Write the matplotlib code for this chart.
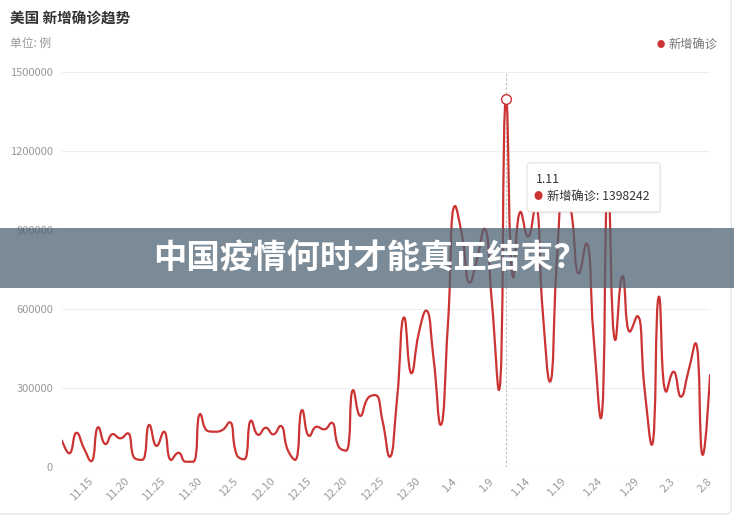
import numpy as np
import pandas as pd
import matplotlib
matplotlib.use("Agg")
import matplotlib.pyplot as plt
from matplotlib.path import Path
from matplotlib.patches import PathPatch, FancyBboxPatch, Rectangle

plt.rcParams['font.family'] = ['Noto Sans CJK SC', 'DejaVu Sans']

# daily new cases, 11.11 -> 2.8
dates = [f"{d.month}.{d.day}" for d in pd.date_range("2021-11-11", "2022-02-08")]
cases = [100000, 52000, 130000, 72000, 22000, 151000, 87000, 125000, 109000, 128000,
         33000, 27000, 160000, 80000, 134000, 27000, 54000, 20000, 20000, 201000,
         137000, 134000, 140000, 170000, 46000, 29000, 176000, 122000, 149000, 124000,
         156000, 65000, 27000, 216000, 118000, 153000, 143000, 168000, 77000, 62000,
         292000, 194000, 261000, 273000, 178000, 39000, 254000, 568000, 356000, 508000,
         594000, 419000, 160000, 540000, 991000, 870000, 700000, 790000, 905000, 640000,
         292000, 1398242, 720000, 969000, 875000, 990000, 600000, 324000, 800000, 1120000,
         960000, 735000, 849000, 500000, 185000, 1080000, 482000, 725000, 514000, 573000,
         300000, 84000, 647000, 286000, 362000, 267000, 360000, 470000, 46000, 349000]
tick_labels = ["11.15", "11.20", "11.25", "11.30", "12.5", "12.10", "12.15", "12.20", "12.25",
               "12.30", "1.4", "1.9", "1.14", "1.19", "1.24", "1.29", "2.3", "2.8"]
y_ticks = [0, 300000, 600000, 900000, 1200000, 1500000]
hover_date = "1.11"

red = "#cc3333"
W, H = 734, 517

fig = plt.figure(figsize=(W / 100, H / 100), dpi=100)
fig.patch.set_facecolor("white")
ax = fig.add_axes([62 / W, 1 - 467 / H, (710 - 62) / W, (467 - 72) / H])
ax.set_xlim(0, len(dates) - 1)
ax.set_ylim(0, 1500000)
for s in ax.spines.values():
    s.set_visible(False)
ax.set_yticks(y_ticks)
ax.set_yticklabels([str(v) for v in y_ticks])
ax.yaxis.grid(True, color="#eeeeee", lw=0.8)
ax.set_axisbelow(True)
ax.tick_params(axis="y", length=0, colors="#999999", labelsize=8, pad=6.5)
ax.set_xticks([dates.index(t) for t in tick_labels])
ax.set_xticklabels(tick_labels, rotation=45, ha="right", va="center", rotation_mode="anchor")
ax.tick_params(axis="x", length=0, colors="#999999", labelsize=8, pad=9)

# smooth line (echarts-style bezier, built in pixel space)
x = np.arange(len(cases))
pts = ax.transData.transform(np.column_stack([x, cases]))
n = len(pts)
verts = [pts[0]]
codes = [Path.MOVETO]
cp_next = pts[0].copy()
smooth = 0.5
for i in range(1, n):
    p = pts[i]
    prev = pts[i - 1]
    if i < n - 1:
        nxt = pts[i + 1]
        vec = nxt - prev
        l0 = np.hypot(*(p - prev))
        l1 = np.hypot(*(nxt - p))
        r = l1 / (l0 + l1)
        c1 = p - vec * smooth * (1 - r)
        c0n = p + vec * smooth * r
        c0n = np.minimum(c0n, np.maximum(nxt, p))
        c0n = np.maximum(c0n, np.minimum(nxt, p))
        v = c0n - p
        c1 = p - v * l0 / l1
        c1 = np.minimum(c1, np.maximum(prev, p))
        c1 = np.maximum(c1, np.minimum(prev, p))
        v = p - c1
        c0n = p + v * l1 / l0
    else:
        c1 = p.copy()
        c0n = p.copy()
    verts += [cp_next, c1, p]
    codes += [Path.CURVE4] * 3
    cp_next = c0n
data_verts = ax.transData.inverted().transform(np.array(verts))
ax.add_patch(PathPatch(Path(data_verts, codes), fill=False, edgecolor=red, lw=1.6,
                       capstyle="round", joinstyle="round", zorder=3))

# hover state
hi = dates.index(hover_date)
ax.axvline(hi, color="#bbbbbb", lw=0.8, ls=(0, (2, 2)), zorder=2)
ax.plot(hi, cases[hi], "o", mfc="white", mec=red, ms=7, mew=1, zorder=4)

px, py = ax.transData.transform((hi, cases[hi]))
def fpos(dx, dy):
    return (px + dx) / W, (py - dy) / H

bx, by = fpos(21, 113)
shadow = FancyBboxPatch((bx + 1 / W, by - 2 / H), 133 / W, 49 / H,
                        boxstyle="round,pad=0,rounding_size=0.006", transform=fig.transFigure,
                        facecolor="#000000", alpha=0.06, edgecolor="none", zorder=9)
box = FancyBboxPatch((bx, by), 133 / W, 49 / H,
                     boxstyle="round,pad=0,rounding_size=0.006", transform=fig.transFigure,
                     facecolor="white", edgecolor="#e3e3e3", lw=0.8, zorder=10)
fig.patches += [shadow, box]
fig.text(*fpos(30, 81), hover_date, fontsize=8.8, color="#333333", va="center", zorder=11)
fig.text(*fpos(32, 98), "●", fontsize=6.5, color=red, va="center", ha="center", zorder=11)
fig.text(*fpos(41, 98), f"新增确诊: {cases[hi]}", fontsize=8.8, color="#333333",
         va="center", zorder=11)

# titles and legend
fig.text(10 / W, 1 - 19 / H, "美国 新增确诊趋势", fontsize=10.5, fontweight="bold",
         color="#333333", va="center")
fig.text(10 / W, 1 - 43 / H, "单位: 例", fontsize=8.5, color="#999999", va="center")
fig.text(661 / W, 1 - 45 / H, "●", fontsize=6, color=red, va="center", ha="center")
fig.text(668 / W, 1 - 45 / H, "新增确诊", fontsize=8.8, color="#777777", va="center")

# card border
fig.patches.append(FancyBboxPatch((-10 / W, 1 - 514 / H), 741 / W, 524 / H,
                                  boxstyle="round,pad=0,rounding_size=0.008",
                                  transform=fig.transFigure, facecolor="none",
                                  edgecolor="#e6e6e6", lw=1, zorder=1))

# banner overlay
fig.patches.append(Rectangle((0, 1 - 288 / H), 1, 60 / H, transform=fig.transFigure,
                             facecolor="#4d6475", alpha=0.75, edgecolor="none", zorder=20))
fig.text(370 / W, 1 - 258 / H, "中国疫情何时才能真正结束？", fontsize=24, fontweight="heavy",
         color="white", ha="center", va="center", zorder=21)

fig.savefig("out.png", dpi=100)
